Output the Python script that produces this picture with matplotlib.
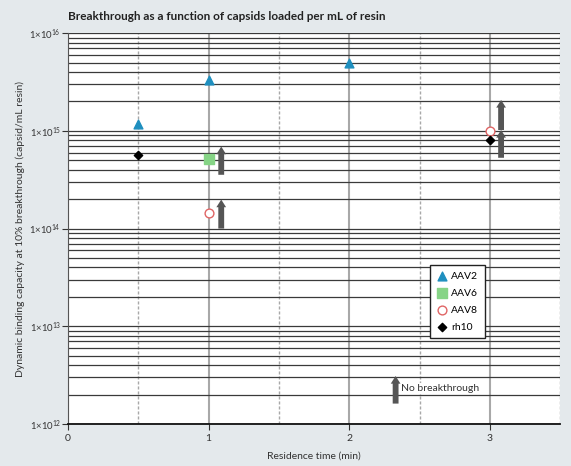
import math
import matplotlib
matplotlib.use("Agg")
import matplotlib.pyplot as plt
from matplotlib.ticker import LogLocator, FuncFormatter, MultipleLocator, NullFormatter

plt.rcParams['font.family'] = ['Lato', 'DejaVu Sans']
plt.rcParams['mathtext.fontset'] = 'custom'
plt.rcParams['mathtext.rm'] = 'Lato'

# data
aav2_x = [0.5, 1, 2]
aav2_y = [1.18e15, 3.3e15, 5.0e15]
aav6_x = [1]
aav6_y = [5.2e14]
aav8_x = [1, 3]
aav8_y = [1.45e14, 1.0e15]
rh10_x = [0.5, 3]
rh10_y = [5.7e14, 8.1e14]

# "no breakthrough" arrows: x, bottom, top
arrow_x = [1.09, 1.09, 3.08, 3.08]
arrow_bottom = [3.55e14, 1.0e14, 1.02e15, 5.3e14]
arrow_top = [6.9e14, 1.98e14, 2.07e15, 1.02e15]
key_arrow_x = 2.33
key_arrow_bottom = 1.62e12
key_arrow_top = 3.1e12

bg = "#e4e9ec"
fig = plt.figure(figsize=(5.71, 4.66), dpi=100, facecolor=bg)
ax = fig.add_axes([0.119, 0.090, 0.862, 0.839])

ax.set_yscale("log")
ax.set_xlim(0, 3.5)
ax.set_ylim(1e12, 1e16)

ax.xaxis.set_major_locator(MultipleLocator(1))
ax.xaxis.set_minor_locator(MultipleLocator(0.5))
ax.yaxis.set_major_locator(LogLocator(base=10, numticks=10))
ax.yaxis.set_minor_locator(LogLocator(base=10, subs=range(2, 10), numticks=20))
ax.yaxis.set_minor_formatter(NullFormatter())
ax.yaxis.set_major_formatter(FuncFormatter(lambda v, p: r"1$\times$10$^{%d}$" % round(math.log10(v))))

ax.grid(which="both", axis="y", color="#3a3a3a", lw=0.9)
ax.grid(which="major", axis="x", color="#a8a8a8", lw=1.5)
ax.grid(which="minor", axis="x", color="#a8a8a8", lw=1.0, ls=(0, (2.2, 1.4)))
ax.set_axisbelow(True)

for s in ["top", "right"]:
    ax.spines[s].set_visible(False)
ax.spines["left"].set_color("#555555")
ax.spines["bottom"].set_color("#111111")
ax.spines["bottom"].set_linewidth(1.3)

ax.tick_params(axis="both", which="minor", length=0)
ax.tick_params(axis="both", which="major", labelsize=7.5, length=4, color="#333333", labelcolor="#333333")
ax.tick_params(axis="y", labelsize=6.8, pad=1)

ax.scatter(aav2_x, aav2_y, marker="^", s=40, color="#1f8fbf", label="AAV2", zorder=3)
ax.scatter(aav6_x, aav6_y, marker="s", s=45, color="#86d486", label="AAV6", zorder=3)
ax.scatter(aav8_x, aav8_y, marker="o", s=40, facecolor="white", edgecolor="#e06565", lw=1, label="AAV8", zorder=3)
ax.scatter(rh10_x, rh10_y, marker="D", s=18, color="black", label="rh10", zorder=3)

astyle = dict(arrowstyle="simple,head_width=0.7,head_length=0.55,tail_width=0.42", fc="#555555", ec="none", shrinkA=0, shrinkB=0)
for x, b, t in zip(arrow_x, arrow_bottom, arrow_top):
    ax.annotate("", xy=(x, t), xytext=(x, b), arrowprops=astyle, zorder=4)
ax.annotate("", xy=(key_arrow_x, key_arrow_top), xytext=(key_arrow_x, key_arrow_bottom), arrowprops=astyle, zorder=4)
ax.text(key_arrow_x + 0.035, 2.3e12, "No breakthrough", fontsize=7.5, color="#333333", va="center", ha="left",
        bbox=dict(facecolor="white", edgecolor="none", pad=0.5))

leg = ax.legend(loc="upper left", bbox_to_anchor=(0.724, 0.42), fontsize=7.5, frameon=True, fancybox=False,
                edgecolor="#222222", framealpha=1, handletextpad=0.3, borderpad=0.6, labelspacing=0.75, handlelength=1.2)
leg.get_frame().set_linewidth(1.0)

ax.set_xlabel("Residence time (min)", fontsize=7.5, color="#333333", labelpad=6)
ax.set_ylabel("Dynamic binding capacity at 10% breakthrough (capsid/mL resin)", fontsize=7.5, color="#333333", labelpad=3)
fig.text(0.119, 0.965, "Breakthrough as a function of capsids loaded per mL of resin", fontsize=8.5,
         fontweight="bold", color="#222222", ha="left", va="center")

plt.savefig("out.png", dpi=100, facecolor=bg)
